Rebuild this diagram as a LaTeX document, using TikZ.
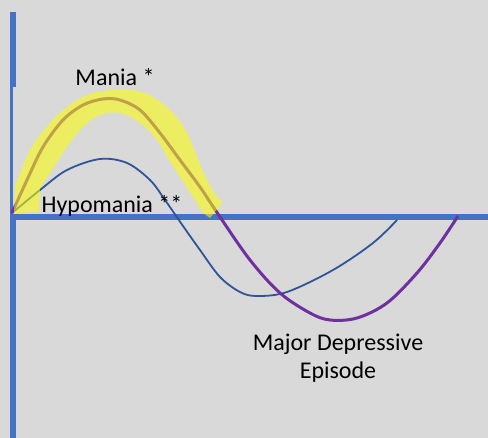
\documentclass[tikz,border=0pt]{standalone}
\usepackage{fontspec}
\setmainfont{Carlito}
\definecolor{bggray}{HTML}{D9D9D9}
\definecolor{axisblue}{HTML}{4472C4}
\definecolor{hypoblue}{HTML}{2F5597}
\definecolor{deppurple}{HTML}{7030A0}
\definecolor{marker}{HTML}{FFFF00}

\begin{document}
\begin{tikzpicture}[x=0.75pt, y=-0.75pt, font=\fontsize{18}{21}\selectfont,
    axis/.style={axisblue, line width=4.2pt},
    label/.style={inner sep=0pt, text=black}]
      % Background
      \useasboundingbox (0,0) rectangle (488,438);
      \fill[bggray] (0,0) rectangle (488,438);

      % Axes
      \draw[axis, line width=4.5pt] (13,12) -- (13,87);
      \draw[axis, line width=2.6pt] (11.7,87) -- (11.7,217);
      \draw[axis, line width=4.5pt] (13,217) -- (13,438);
      \draw[axis] (10,217) -- (488,217);

      % Hypomania / depression curve (blue)
      \draw[hypoblue, line width=1.35pt] plot[smooth, tension=0.55] coordinates {
        (12,213) (40,190) (67,170) (100,159) (127,163) (150,180) (165,200)
        (183,226) (200,250) (220,277) (240,292) (257,296) (287,292)
        (333,270) (373,243) (397,220)};

      % Mania / major depression curve (purple)
      \draw[deppurple, line width=2.25pt] plot[smooth, tension=0.55] coordinates {
        (12,213) (27,180) (43,147) (63,120) (83,105) (103,99) (120,100)
        (140,110) (160,133) (180,160) (200,187) (218,214) (250,260)
        (280,293) (310,313) (330,320) (357,318) (387,303) (417,273)
        (440,243) (458,216)};

      % Yellow highlight over the mania arc
      \fill[marker, opacity=0.55] (14,213)
        -- plot[smooth, tension=0.6] coordinates {(15,187) (30,150) (50,123)
          (67,107) (87,95) (110,90) (133,90) (153,97) (173,113) (187,133)
          (197,157) (207,180) (217,197) (223,202)}
        -- (210,218)
        -- plot[smooth, tension=0.6] coordinates {(203,213) (193,197) (180,177)
          (167,157) (157,140) (140,123) (120,113) (100,115) (83,127)
          (67,147) (50,173) (40,188)}
        -- (39,212) -- cycle;

      % Labels
      \node[label, anchor=base] (mania) at (115,86) {Mania *};
      \node[label, anchor=base] (hypo) at (112,212) {Hypomania **};
      \node[label, anchor=base, align=center] (mde) at (338,378)
        {Major Depressive\\Episode};
    \end{tikzpicture}
\end{document}
